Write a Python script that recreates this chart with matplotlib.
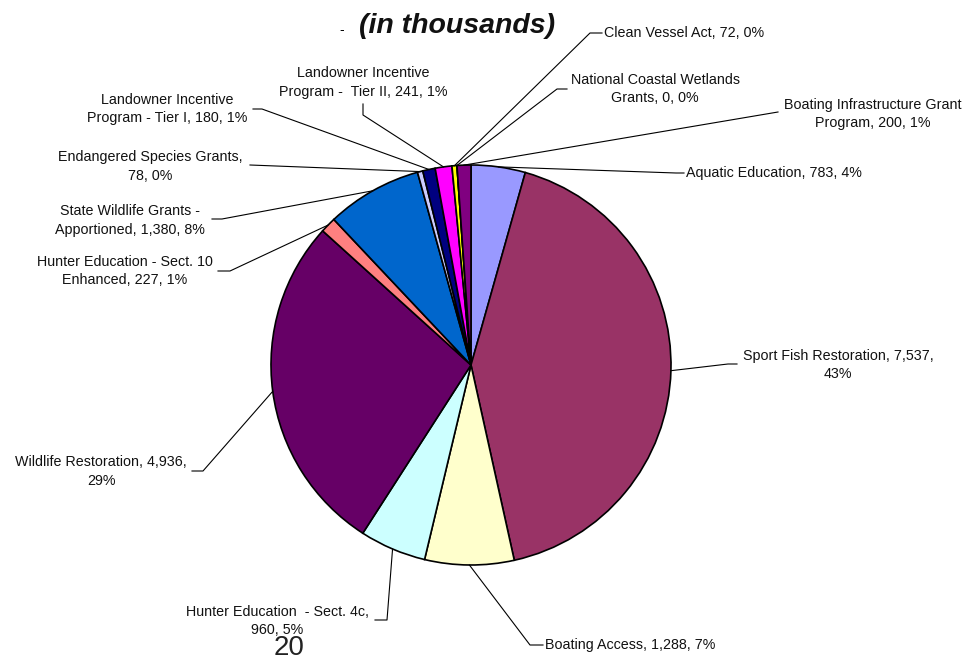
import numpy as np
from matplotlib import pyplot as plt

# slices, clockwise from 12 o'clock
names = ["Aquatic Education", "Sport Fish Restoration", "Boating Access",
         "Hunter Education  - Sect. 4c", "Wildlife Restoration",
         "Hunter Education - Sect. 10 Enhanced", "State Wildlife Grants - Apportioned",
         "Endangered Species Grants", "Landowner Incentive Program - Tier I",
         "Landowner Incentive Program -  Tier II", "Clean Vessel Act",
         "National Coastal Wetlands Grants", "Boating Infrastructure Grant Program"]
values = [783, 7537, 1288, 960, 4936, 227, 1380, 78, 180, 241, 72, 0, 200]
pcts = [4, 43, 7, 5, 29, 1, 8, 0, 1, 1, 0, 0, 1]   # as printed on the chart
colors = ["#9999FF", "#993366", "#FFFFCC", "#CCFFFF", "#660066", "#FF8080",
          "#0066CC", "#CCCCFF", "#000080", "#FF00FF", "#FFFF00", "#00FFFF", "#800080"]
breaks = [None, "7,537,", None, "4c,", "4,936,", "Sect. 10", "Grants -", "Grants,",
          "Incentive", "Incentive", None, "Wetlands", "Grant"]

W, H = 980, 662
def py(y):  # pixel row -> axes y
    return H - y

# label layout: text x, text y, ha, leader points after the rim point
layout = [
    (686, 173, 'left', [(676, 173), (684, 173)]),
    (838, 365, 'center', [(728, 364), (737, 364)]),
    (545, 645, 'left', [(530, 645), (543, 645)]),
    (277, 621, 'center', [(387, 620), (375, 620)]),
    (101, 471.5, 'center', [(203, 471), (192, 471)]),
    (125, 271, 'center', [(230, 271), (218, 271)]),
    (130, 220.5, 'center', [(222, 219), (212, 219)]),
    (150, 166.5, 'center', [(250, 165)]),
    (167, 109, 'center', [(262, 109), (253, 109)]),
    (363, 82.5, 'center', [(363, 115), (363, 104)]),
    (604, 33, 'left', [(590, 33), (602, 33)]),
    (655, 89, 'center', [(557, 89), (567, 89)]),
    (873, 114, 'center', [(778, 112)]),
]

plt.rcParams['font.family'] = ['Liberation Sans', 'DejaVu Sans']
fig = plt.figure(figsize=(9.8, 6.62), dpi=100)
ax = fig.add_axes([0, 0, 1, 1])

cx, cy, r = 471, py(365), 200
wedges, _ = ax.pie(values, colors=colors, startangle=90, counterclock=False,
                   center=(cx, cy), radius=r,
                   wedgeprops=dict(edgecolor='black', linewidth=1.2))
ax.set_xlim(0, W)
ax.set_ylim(0, H)
ax.set_aspect('equal')
ax.axis('off')

for i, w in enumerate(wedges):
    txt = f"{names[i]}, {values[i]:,}, {pcts[i]}%"
    if breaks[i]:
        txt = txt.replace(breaks[i] + " ", breaks[i] + "\n", 1)
    tx, ty, ha, pts = layout[i]
    ang = np.deg2rad((w.theta1 + w.theta2) / 2)
    xs = [cx + r * np.cos(ang)] + [p[0] for p in pts]
    ys = [cy + r * np.sin(ang)] + [py(p[1]) for p in pts]
    ax.plot(xs, ys, color='black', lw=0.8)
    ax.text(tx, py(ty), txt, ha=ha, va='center', fontsize=10.3,
            linespacing=1.38, color='#111111', multialignment='center')

ax.text(457, py(26), "(in thousands)", ha='center', va='center', fontsize=20.5,
        fontweight='bold', style='italic', color='#111111')
ax.text(342, py(30), "-", ha='center', va='center', fontsize=10)
ax.text(289, py(648), "20", ha='center', va='center', fontsize=20,
        color='#222222')

fig.savefig('out.png', dpi=100)
